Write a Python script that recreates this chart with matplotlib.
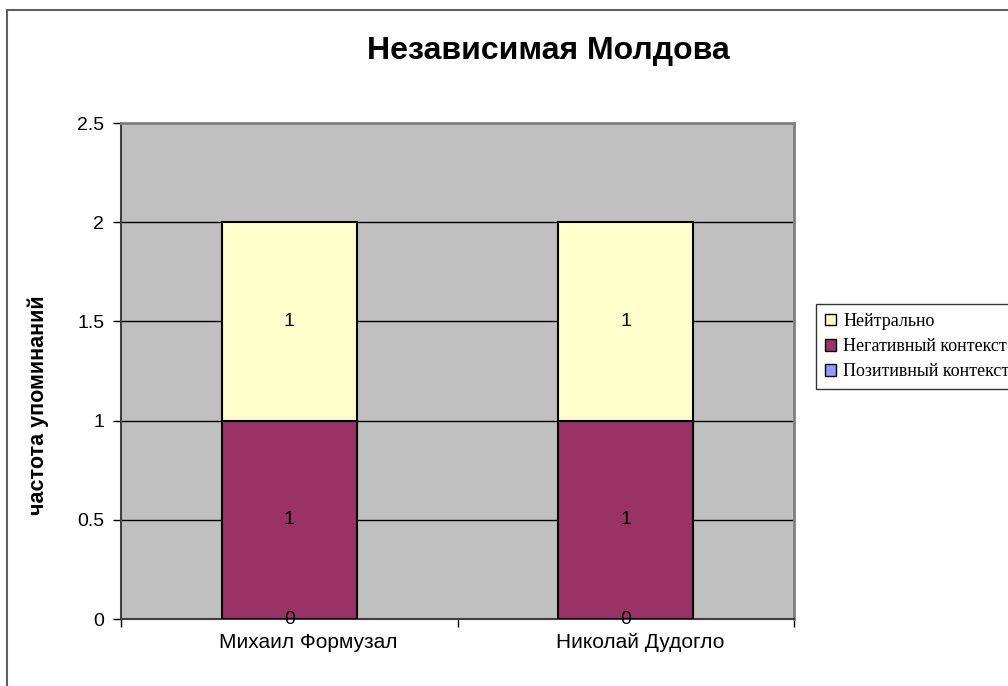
import matplotlib
matplotlib.use("Agg")
import matplotlib.pyplot as plt
from matplotlib.patches import Rectangle, Patch
from matplotlib.transforms import ScaledTranslation

plt.rcParams["font.family"] = ["Liberation Sans", "DejaVu Sans"]

categories = ["Михаил Формузал", "Николай Дудогло"]
positive = [0, 0]
negative = [1, 1]
neutral = [1, 1]
series_names = ["Позитивный контекст", "Негативный контекст", "Нейтрально"]
yticks = [0, 0.5, 1, 1.5, 2, 2.5]
ytick_labels = ["0", "0.5", "1", "1.5", "2", "2.5"]
title = "Независимая Молдова"
ylabel = "частота упоминаний"

colors = {"pos": "#9999FF", "neg": "#993366", "neu": "#FFFFCC"}

fig = plt.figure(figsize=(10.08, 6.86), dpi=100)
W, H = 1008, 686
ax = fig.add_axes([121 / W, 1 - 619 / H, (794 - 121) / W, (619 - 123) / H])
ax.set_facecolor("#C0C0C0")

x = list(range(len(categories)))
bw = 0.4
bottoms_neg = positive
bottoms_neu = [p + n for p, n in zip(positive, negative)]
ax.bar(x, positive, bw, color=colors["pos"], edgecolor="black", linewidth=1.5, zorder=3)
ax.bar(x, negative, bw, bottom=bottoms_neg, color=colors["neg"], edgecolor="black", linewidth=1.5, zorder=3)
ax.bar(x, neutral, bw, bottom=bottoms_neu, color=colors["neu"], edgecolor="black", linewidth=1.5, zorder=3)

lab_fs = 14
for i in x:
    ax.text(i, positive[i] / 2, str(positive[i]), ha="center", va="center", fontsize=lab_fs, zorder=5)
    ax.text(i, bottoms_neg[i] + negative[i] / 2, str(negative[i]), ha="center", va="center", fontsize=lab_fs, zorder=5)
    ax.text(i, bottoms_neu[i] + neutral[i] / 2, str(neutral[i]), ha="center", va="center", fontsize=lab_fs, zorder=5)

ax.set_xlim(-0.5, len(categories) - 0.5)
ax.set_ylim(0, 2.5)
ax.set_yticks(yticks)
ax.set_yticklabels(ytick_labels, fontsize=14)
ax.set_xticks(x)
ax.set_xticklabels(categories, fontsize=15)
ax.tick_params(axis="x", which="major", length=0, pad=10)
shift = ScaledTranslation(-70 / 100, 0, fig.dpi_scale_trans)
for lbl in ax.get_xticklabels():
    lbl.set_horizontalalignment("left")
    lbl.set_transform(lbl.get_transform() + shift)
ax.set_xticks([i - 0.5 for i in range(len(categories) + 1)], minor=True)
ax.tick_params(axis="x", which="minor", length=6, width=1, color="black", direction="out")
ax.tick_params(axis="y", length=6, width=1, color="black", direction="out", pad=6)
ax.yaxis.grid(True, color="black", linewidth=1, zorder=1)
ax.set_axisbelow(True)
for s in ["top", "right"]:
    ax.spines[s].set_color("#808080")
    ax.spines[s].set_linewidth(2)
ax.spines["left"].set_color("#404040")
ax.spines["bottom"].set_color("#404040")
ax.spines["left"].set_linewidth(1.5)
ax.spines["bottom"].set_linewidth(1.5)

fig.text(38 / W, 1 - 405 / H, ylabel, rotation=90, ha="center", va="center", fontsize=15.5, fontweight="bold")
fig.text(548 / W, 1 - 51 / H, title, ha="center", va="center", fontsize=23, fontweight="bold")

# outer chart border
fig.patches.append(Rectangle((7 / W, -0.1), 1.2, 1 - 10 / H + 0.1, transform=fig.transFigure,
                             fill=False, edgecolor="#606060", linewidth=1.5))

handles = [Patch(facecolor=colors["neu"], edgecolor="black"),
           Patch(facecolor=colors["neg"], edgecolor="black"),
           Patch(facecolor=colors["pos"], edgecolor="black")]
labels = [series_names[2], series_names[1], series_names[0]]
leg = fig.legend(handles, labels, loc="upper left", bbox_to_anchor=(816 / W, 1 - 304 / H),
                 prop={"family": "Liberation Serif", "size": 13}, frameon=True, fancybox=False,
                 edgecolor="black", handlelength=0.6, handleheight=0.6, handletextpad=0.4,
                 borderpad=0.5, labelspacing=0.45, borderaxespad=0)
leg.get_frame().set_linewidth(1)

fig.savefig("out.png", dpi=100)
